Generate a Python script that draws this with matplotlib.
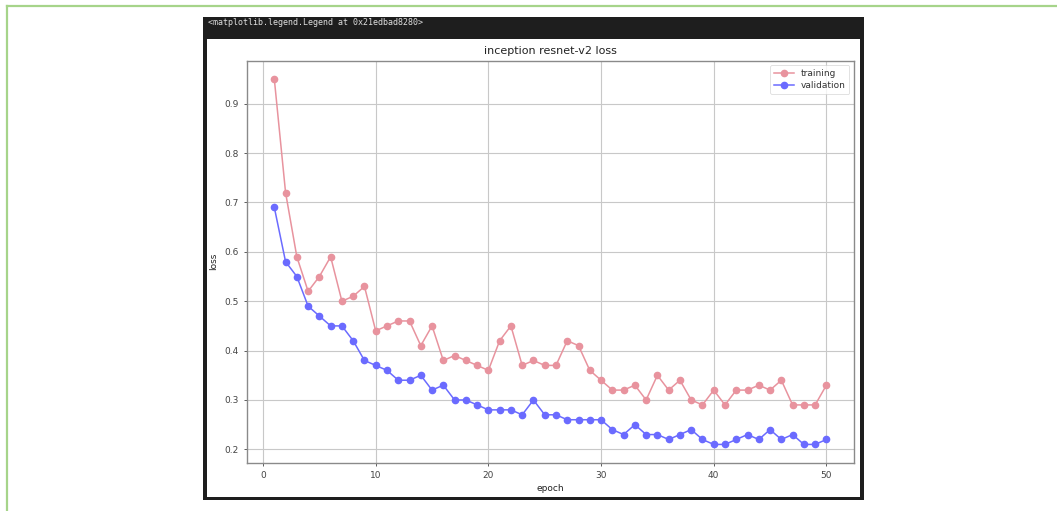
import matplotlib
matplotlib.use("Agg")
import matplotlib.pyplot as plt
from matplotlib.patches import Rectangle
from matplotlib.lines import Line2D

epochs = list(range(1, 51))
train_loss = [0.95, 0.72, 0.59, 0.52, 0.55, 0.59, 0.50, 0.51, 0.53, 0.44,
              0.45, 0.46, 0.46, 0.41, 0.45, 0.38, 0.39, 0.38, 0.37, 0.36,
              0.42, 0.45, 0.37, 0.38, 0.37, 0.37, 0.42, 0.41, 0.36, 0.34,
              0.32, 0.32, 0.33, 0.30, 0.35, 0.32, 0.34, 0.30, 0.29, 0.32,
              0.29, 0.32, 0.32, 0.33, 0.32, 0.34, 0.29, 0.29, 0.29, 0.33]
val_loss = [0.69, 0.58, 0.55, 0.49, 0.47, 0.45, 0.45, 0.42, 0.38, 0.37,
            0.36, 0.34, 0.34, 0.35, 0.32, 0.33, 0.30, 0.30, 0.29, 0.28,
            0.28, 0.28, 0.27, 0.30, 0.27, 0.27, 0.26, 0.26, 0.26, 0.26,
            0.24, 0.23, 0.25, 0.23, 0.23, 0.22, 0.23, 0.24, 0.22, 0.21,
            0.21, 0.22, 0.23, 0.22, 0.24, 0.22, 0.23, 0.21, 0.21, 0.22]

W, H = 1057, 511
fig = plt.figure(figsize=(W / 100, H / 100), dpi=100)
fig.patch.set_facecolor("white")

def fx(px):
    return px / W

def fy(py):
    return 1 - py / H

# green page border (top and left only)
fig.add_artist(Line2D([fx(6.5), 1], [fy(6.5), fy(6.5)], color="#a6d48a", lw=1.6, zorder=-3))
fig.add_artist(Line2D([fx(6.5), fx(6.5)], [fy(6.5), 0], color="#a6d48a", lw=1.6, zorder=-3))

# dark notebook frame and header
fig.add_artist(Rectangle((fx(203), fy(500)), fx(864) - fx(203), fy(17) - fy(500),
                         transform=fig.transFigure, facecolor="#1e1e1e", edgecolor="none",
                         zorder=-2))
fig.add_artist(Rectangle((fx(207), fy(497)), fx(860) - fx(207), fy(39) - fy(497),
                         transform=fig.transFigure, facecolor="white", edgecolor="none",
                         zorder=-1))
fig.text(fx(208), fy(22.5), "<matplotlib.legend.Legend at 0x21edbad8280>",
         color="#e0e0e0", fontsize=6.0, family="DejaVu Sans Mono", va="center", ha="left")

ax = fig.add_axes([fx(246.7), fy(462.7), fx(854) - fx(246.7), fy(60.7) - fy(462.7)])
ax.plot(epochs, train_loss, "o-", color="#e8939e", lw=1.1, ms=4.5, label="training")
ax.plot(epochs, val_loss, "o-", color="#6b6bff", lw=1.1, ms=4.5, label="validation")

ax.set_title("inception resnet-v2 loss", fontsize=8, color="#222222", pad=5)
ax.set_xlabel("epoch", fontsize=6.5, color="#222222", labelpad=3)
ax.set_ylabel("loss", fontsize=6.5, color="#222222", labelpad=4)
ax.tick_params(labelsize=6.5, colors="#444444", length=2.5, width=0.6)
for s in ax.spines.values():
    s.set_color("#8a8a8a")
    s.set_linewidth(1.0)
ax.grid(True, color="#c8c8c8", lw=0.8)
leg = ax.legend(loc="upper right", fontsize=6.5, framealpha=0.8, borderpad=0.4,
                labelspacing=0.35, handlelength=2.2)
leg.get_frame().set_linewidth(0.5)
for t in leg.get_texts():
    t.set_color("#333333")

fig.savefig("out.png", dpi=100)
